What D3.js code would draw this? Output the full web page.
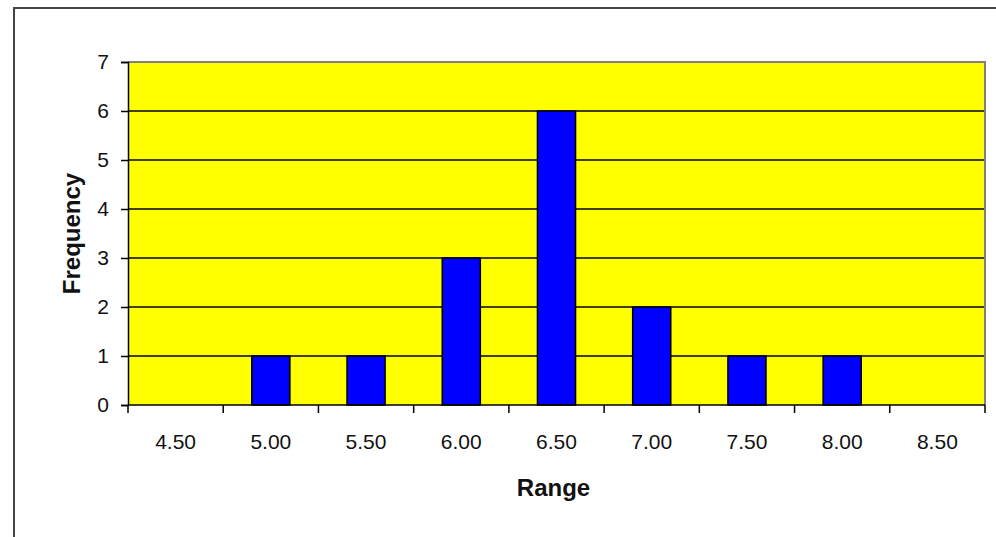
<!DOCTYPE html>
<html>
<head>
<meta charset="utf-8">
<script src="https://cdn.jsdelivr.net/npm/d3@7"></script>
<style>
  html, body { margin: 0; padding: 0; background: #ffffff; }
  svg { display: block; }
  text { font-family: "Liberation Sans", Arial, sans-serif; fill: #111; }
</style>
</head>
<body>
<svg id="chart" width="996" height="537"></svg>
<script>
// Histogram of ranges
const categories = ["4.50", "5.00", "5.50", "6.00", "6.50", "7.00", "7.50", "8.00", "8.50"];
const frequency = [0, 1, 1, 3, 6, 2, 1, 1, 0];
const yTicks = [0, 1, 2, 3, 4, 5, 6, 7];
const xTitle = "Range";
const yTitle = "Frequency";

const svg = d3.select("#chart");
const W = 996, H = 537;
const plot = { left: 128, right: 985, top: 62, bottom: 405 };

// chart frame
svg.append("rect")
  .attr("x", 14).attr("y", 8)
  .attr("width", W + 10).attr("height", H + 10)
  .attr("fill", "#ffffff")
  .attr("stroke", "#444").attr("stroke-width", 2);

const x = d3.scaleBand()
  .domain(categories)
  .range([plot.left, plot.right])
  .padding(0);

const y = d3.scaleLinear()
  .domain([0, 7])
  .range([plot.bottom, plot.top]);

// plot background
svg.append("rect")
  .attr("x", plot.left).attr("y", plot.top)
  .attr("width", plot.right - plot.left)
  .attr("height", plot.bottom - plot.top)
  .attr("fill", "#ffff00");

// horizontal gridlines
svg.append("g")
  .selectAll("line")
  .data(yTicks.filter(d => d > 0 && d < 7))
  .join("line")
  .attr("x1", plot.left).attr("x2", plot.right)
  .attr("y1", d => y(d)).attr("y2", d => y(d))
  .attr("stroke", "#000").attr("stroke-width", 1.5);

// plot border (top and right)
svg.append("path")
  .attr("d", `M${plot.left},${y(7)}H${plot.right}V${plot.bottom}`)
  .attr("fill", "none")
  .attr("stroke", "#808080").attr("stroke-width", 2);

// bars
const barW = x.bandwidth() * 0.4;
svg.append("g")
  .selectAll("rect")
  .data(categories.map((c, i) => ({ c, v: frequency[i] })).filter(d => d.v > 0))
  .join("rect")
  .attr("x", d => x(d.c) + (x.bandwidth() - barW) / 2)
  .attr("y", d => y(d.v))
  .attr("width", barW)
  .attr("height", d => y(0) - y(d.v))
  .attr("fill", "#0000ff")
  .attr("stroke", "#000").attr("stroke-width", 1.5);

// y axis
const yAxis = svg.append("g")
  .attr("transform", `translate(${plot.left},0)`)
  .call(d3.axisLeft(y).tickValues(yTicks).tickFormat(d3.format("d")).tickSizeOuter(0).tickSize(7).tickPadding(12));
yAxis.select(".domain").attr("stroke", "#000").attr("stroke-width", 1.5);
yAxis.selectAll(".tick line").attr("stroke", "#000").attr("stroke-width", 1.5);
yAxis.selectAll(".tick text")
  .attr("fill", "#111")
  .style("font-size", "21px")
  .style("font-family", "'Liberation Sans', Arial, sans-serif");

// x axis: ticks sit on the band boundaries, labels at band centres
const xAxisG = svg.append("g").attr("transform", `translate(0,${plot.bottom})`);
xAxisG.append("line")
  .attr("x1", plot.left).attr("x2", plot.right)
  .attr("stroke", "#000").attr("stroke-width", 1.5);
const boundaries = categories.map(c => x(c)).concat([x(categories[categories.length - 1]) + x.bandwidth()]);
xAxisG.selectAll("line.tk")
  .data(boundaries)
  .join("line")
  .attr("class", "tk")
  .attr("x1", d => d).attr("x2", d => d)
  .attr("y1", 0).attr("y2", 8)
  .attr("stroke", "#000").attr("stroke-width", 1.5);
xAxisG.selectAll("text")
  .data(categories)
  .join("text")
  .attr("x", d => x(d) + x.bandwidth() / 2)
  .attr("y", 44)
  .attr("text-anchor", "middle")
  .style("font-size", "21px")
  .text(d => d);

// axis titles
svg.append("text")
  .attr("x", (plot.left + plot.right) / 2 - 3)
  .attr("y", 496)
  .attr("text-anchor", "middle")
  .style("font-size", "24px")
  .style("font-weight", "bold")
  .text(xTitle);

svg.append("text")
  .attr("transform", `translate(80,${(plot.top + plot.bottom) / 2}) rotate(-90)`)
  .attr("text-anchor", "middle")
  .style("font-size", "24px")
  .style("font-weight", "bold")
  .text(yTitle);
</script>
</body>
</html>
